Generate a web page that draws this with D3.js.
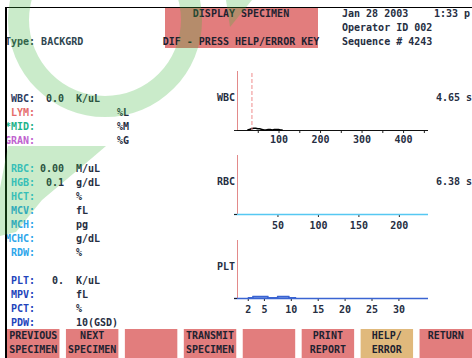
<!DOCTYPE html>
<html><head><meta charset="utf-8">
<script src="https://cdn.jsdelivr.net/npm/d3@7/dist/d3.min.js"></script>
<style>
html,body{margin:0;padding:0;background:#fff;overflow:hidden}
svg{display:block}
text{font-family:"DejaVu Sans Mono","Liberation Mono",monospace;font-weight:bold;font-size:10px}
</style></head>
<body>
<svg id="c" width="472" height="358"></svg>
<script>
// ---------- data ----------
const titleLines = ["DISPLAY SPECIMEN", "DIF - PRESS HELP/ERROR KEY"];
const infoLines = ["Jan 28 2003", "Operator ID 002", "Sequence # 4243"];
const timeText = "1:33 p";
const typeText = "Type: BACKGRD";

const paramLabels = ["WBC:", "LYM:", "*MID:", "GRAN:", "RBC:", "HGB:", "HCT:", "MCV:", "MCH:", "MCHC:", "RDW:", "PLT:", "MPV:", "PCT:", "PDW:"];
const paramGroups = [0, 0, 0, 0, 1, 1, 1, 1, 1, 1, 1, 2, 2, 2, 2];
const paramValues = ["0.0", "", "", "", "0.00", "0.1", "", "", "", "", "", "0.", "", "", ""];
const paramUnits = ["K/uL", "", "", "", "M/uL", "g/dL", "%", "fL", "pg", "g/dL", "%", "K/uL", "fL", "%", "10(GSD)"];
const diffUnits = ["", "%L", "%M", "%G", "", "", "", "", "", "", "", "", "", "", ""];

const buttonLabels = [["PREVIOUS", "SPECIMEN"], ["NEXT", "SPECIMEN"], ["", ""], ["TRANSMIT", "SPECIMEN"], ["", ""], ["PRINT", "REPORT"], ["HELP/", "ERROR"], ["RETURN", ""]];
const buttonKinds = ["red", "red", "red", "red", "red", "red", "tan", "red"];

const histNames = ["WBC", "RBC", "PLT"];
const histTimes = ["4.65 s", "6.38 s", ""];
const histDomains = [460, 236, 35.5];
const wbcTicks = [50, 100, 150, 200, 250, 300, 350, 400, 450];
const wbcTickLabels = [100, 200, 300, 400];
const rbcTicks = [50, 100, 150, 200];
const pltTicks = [2, 5, 10, 15, 20, 25, 30];
const wbcThreshold = [36];

const wbcSize  = [25, 30, 35, 40, 45, 50, 55, 60, 65, 70, 75, 80, 85, 90, 95, 100, 105, 110];
const wbcCount = [0, 1, 2, 3, 3, 2, 2, 1, 0, 0, 1, 1, 0, 1, 1, 1, 0, 0];
const rbcSize  = [];
const rbcCount = [];
const pltSize  = [2, 2.9, 3, 5.7, 5.8, 7.5, 7.6, 9.6, 9.7, 11];
const pltCount = [0, 0, 2, 2, 0, 0, 2, 2, 0, 0];

// ---------- styles ----------
const RED = "#e27d7d", TAN = "#e0b97c", TXT = "#262e42";
const labelColors = ["#2d3c62", "#e56b6b", "#1db38a", "#c062cf", "#36c3e6", "#36c3e6", "#36c3e6", "#2ea6ea", "#2ea6ea", "#2ea6ea", "#2ea6ea", "#2244bb", "#2244bb", "#2244bb", "#2244bb"];

const svg = d3.select("#c");

// title box
svg.append("rect").attr("x", 165).attr("y", 7).attr("width", 153).attr("height", 41).attr("fill", RED);
svg.selectAll(".title").data(titleLines).join("text")
  .attr("x", 241).attr("y", (d, i) => 13 + i * 28).attr("dy", "0.35em")
  .attr("text-anchor", "middle").attr("fill", "#1e2230").text(d => d);

// info lines
svg.selectAll(".info").data(infoLines).join("text")
  .attr("x", 342).attr("y", (d, i) => 13 + i * 14).attr("dy", "0.35em")
  .attr("fill", TXT).text(d => d);
svg.append("text").attr("x", 434).attr("y", 13).attr("dy", "0.35em").attr("fill", TXT).text(timeText);
svg.append("text").attr("x", 5).attr("y", 41).attr("dy", "0.35em").attr("fill", "#2f4650").text(typeText);

// parameter rows
const rowY = i => 98 + 14 * (i + paramGroups[i]);
const rows = svg.selectAll(".row").data(paramLabels).join("g");
rows.append("text").attr("x", 35).attr("y", (d, i) => rowY(i)).attr("dy", "0.35em")
  .attr("text-anchor", "end").attr("fill", (d, i) => labelColors[i]).text(d => d);
rows.append("text").attr("x", 64).attr("y", (d, i) => rowY(i)).attr("dy", "0.35em")
  .attr("text-anchor", "end").attr("fill", TXT).text((d, i) => paramValues[i]);
rows.append("text").attr("x", 76).attr("y", (d, i) => rowY(i)).attr("dy", "0.35em")
  .attr("fill", TXT).text((d, i) => paramUnits[i]);
rows.append("text").attr("x", 117).attr("y", (d, i) => rowY(i)).attr("dy", "0.35em")
  .attr("fill", TXT).text((d, i) => diffUnits[i]);

// histograms
const panels = [
  {top: 71, base: 130, ticks: wbcTicks, fmt: d => wbcTickLabels.includes(d) ? d : "", baseColor: "#111", lab: 9, size: wbcSize, count: wbcCount, lineColor: "#000", lw: 1.5},
  {top: 155, base: 214, ticks: rbcTicks, fmt: d => d, baseColor: "#56c8f2", lab: 11, size: rbcSize, count: rbcCount, lineColor: "#56c8f2", lw: 1.5},
  {top: 240, base: 298, ticks: pltTicks, fmt: d => d, baseColor: "#3a64d2", lab: 11, size: pltSize, count: pltCount, lineColor: "#3a64d2", lw: 2}
];
panels.forEach((p, k) => {
  const x = d3.scaleLinear().domain([0, histDomains[k]]).range([237, 428]);
  const y = d3.scaleLinear().domain([0, 100]).range([p.base, p.top]);
  const g = svg.append("g");
  g.append("line").attr("x1", 237.5).attr("x2", 237.5).attr("y1", p.top).attr("y2", p.base).attr("stroke", "#e38a8a");
  const ax = g.append("g").attr("transform", `translate(0,${p.base})`)
    .call(d3.axisBottom(x).tickValues(p.ticks).tickFormat(p.fmt).tickSize(3).tickSizeOuter(0));
  ax.select(".domain").remove();
  ax.selectAll(".tick line").attr("stroke", "#222");
  ax.selectAll(".tick text").attr("fill", TXT).attr("font-family", null).attr("font-size", null).attr("dy", "0.35em").attr("y", p.lab);
  g.append("line").attr("x1", 234).attr("x2", 428).attr("y1", p.base + 0.5).attr("y2", p.base + 0.5)
    .attr("stroke", p.baseColor).attr("stroke-width", k === 0 ? 1 : 1.5);
  g.append("line").attr("x1", 234).attr("x2", 237).attr("y1", p.base + 0.5).attr("y2", p.base + 0.5).attr("stroke", "#222");
  if (p.size.length) {
    const pts = p.size.map((s, i) => [s, p.count[i]]);
    g.append("path").datum(pts).attr("fill", "none").attr("stroke", p.lineColor).attr("stroke-width", p.lw)
      .attr("d", d3.line().x(d => x(d[0])).y(d => y(d[1])));
  }
  if (k === 0) {
    g.selectAll(".thr").data(wbcThreshold).join("line")
      .attr("x1", d => x(d)).attr("x2", d => x(d)).attr("y1", p.top + 2).attr("y2", p.base)
      .attr("stroke", "#ef8c8c").attr("stroke-dasharray", "4,2");
  }
  g.append("text").attr("x", 235).attr("y", (p.top + p.base) / 2 - 3).attr("dy", "0.35em")
    .attr("text-anchor", "end").attr("fill", TXT).text(histNames[k]);
  g.append("text").attr("x", 436).attr("y", (p.top + p.base) / 2 - 3).attr("dy", "0.35em")
    .attr("fill", TXT).text(histTimes[k]);
});

// buttons
const bx = d3.scaleBand().domain(d3.range(buttonLabels.length)).range([7, 472]).paddingInner(0.11).paddingOuter(0);
const btn = svg.selectAll(".btn").data(buttonLabels).join("g").attr("transform", (d, i) => `translate(${bx(i)},329)`);
btn.append("rect").attr("width", bx.bandwidth()).attr("height", 29).attr("fill", (d, i) => buttonKinds[i] === "tan" ? TAN : RED);
btn.selectAll("text").data(d => d).join("text")
  .attr("x", bx.bandwidth() / 2).attr("y", (d, j) => 6 + j * 14).attr("dy", "0.35em")
  .attr("text-anchor", "middle").attr("fill", "#1e2230").text(d => d);

// frame
svg.append("line").attr("x1", 5).attr("x2", 472).attr("y1", 7.5).attr("y2", 7.5).attr("stroke", "#000").attr("stroke-width", 1.2);
svg.append("line").attr("x1", 6).attr("x2", 6).attr("y1", 7).attr("y2", 358).attr("stroke", "#000").attr("stroke-width", 2);

// watermark
const wm = svg.append("g").attr("fill", "#3cb43c").attr("fill-opacity", 0.27).style("pointer-events", "none");
wm.append("path").attr("transform", "translate(105,20)")
  .attr("d", d3.arc()({innerRadius: 76, outerRadius: 97, startAngle: 0, endAngle: 2 * Math.PI}));
wm.append("path").attr("d", "M8,146 L106,146 L92,158 L42,200 L16,232 L0,236 L0,188 Z");
wm.append("path").attr("d", "M226,0 L252,0 L230,27 Z");
</script>
</body></html>
